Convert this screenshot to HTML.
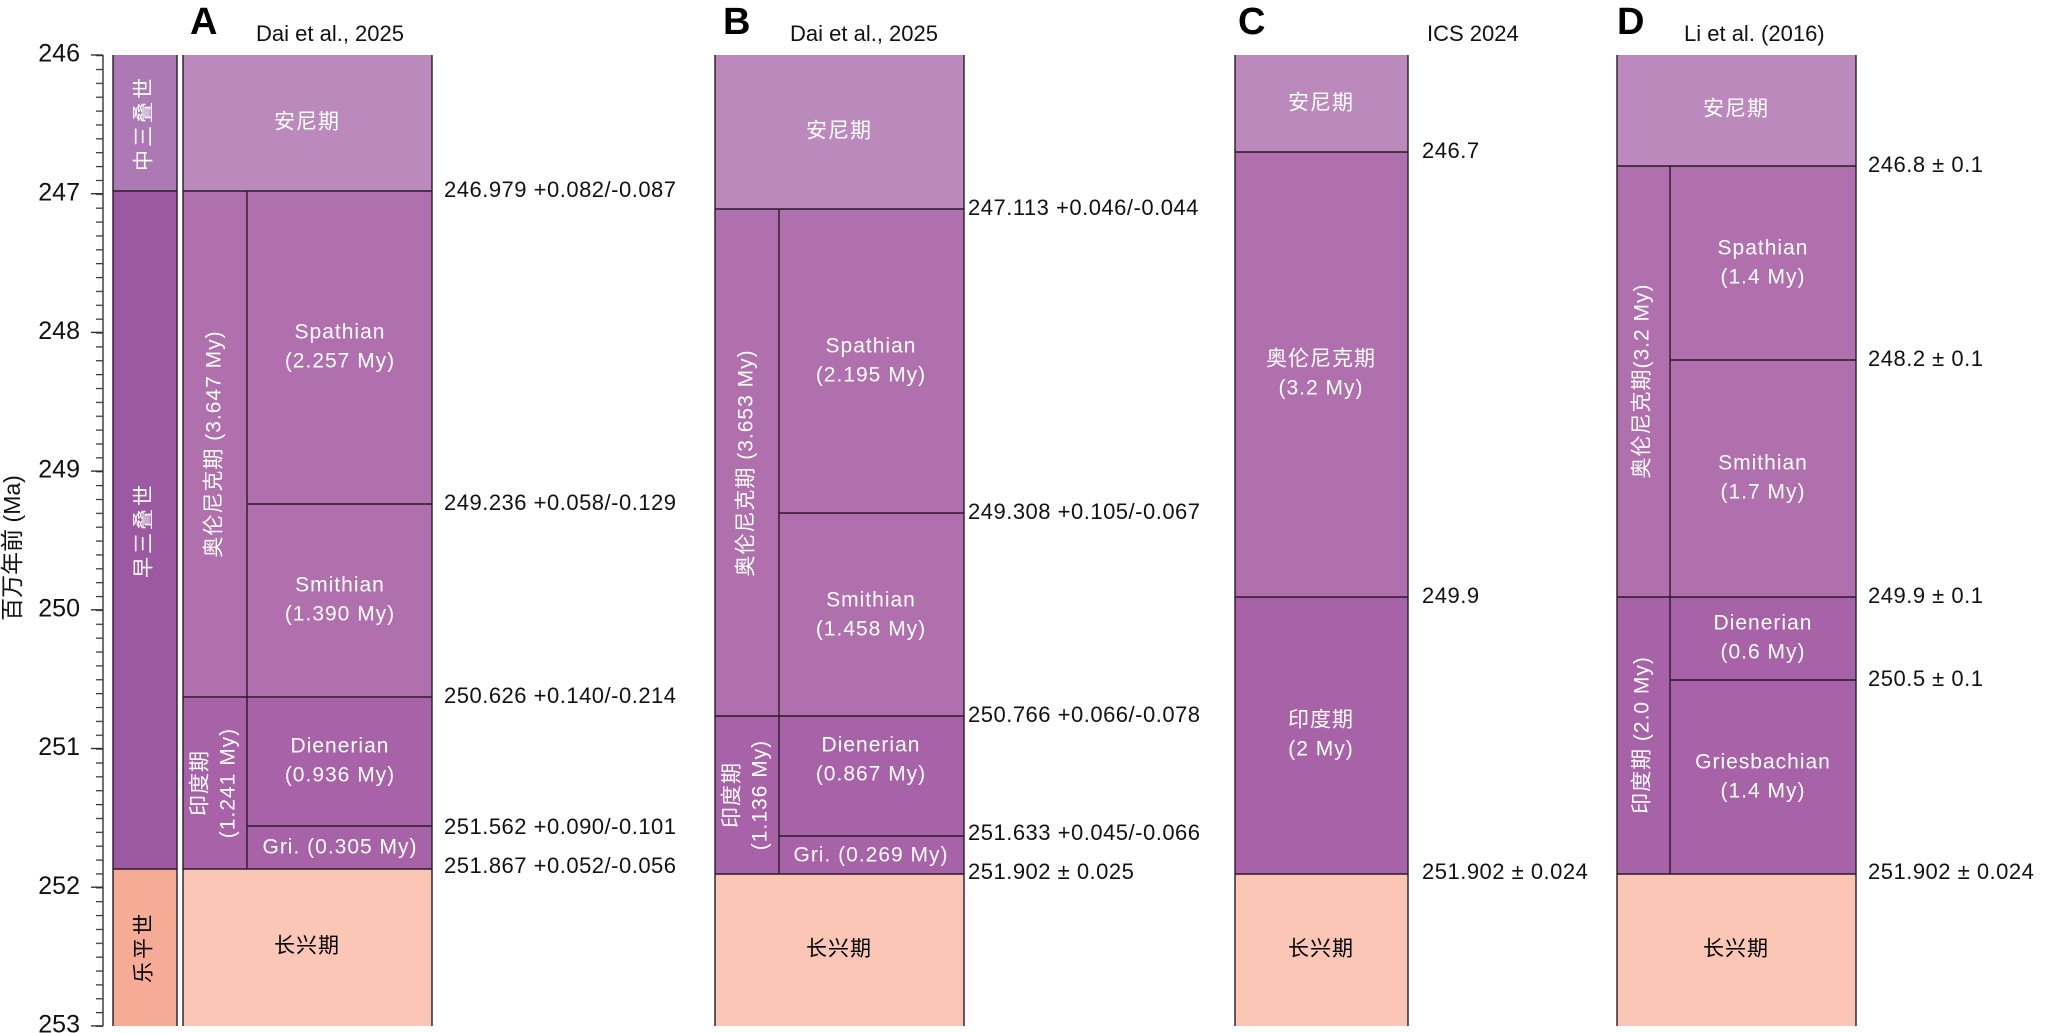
<!DOCTYPE html>
<html><head><meta charset="utf-8"><style>
html,body{margin:0;padding:0;background:#fff}
svg{display:block}
text{font-family:"Liberation Sans","Noto Sans CJK SC",sans-serif}
.w{fill:#fff;font-size:21px;text-anchor:middle;dominant-baseline:middle;letter-spacing:1px}
.k{fill:#000;font-size:21px;text-anchor:middle;dominant-baseline:middle;letter-spacing:1px}
.a{fill:#111;font-size:22px;dominant-baseline:middle;letter-spacing:0.5px}
.t{fill:#111;font-size:22px}
.L{fill:#000;font-size:38px;font-weight:bold}
.ax{fill:#111;font-size:25px;text-anchor:end;dominant-baseline:middle}
.ln{stroke:#2a1a2a;stroke-width:1.4;fill:none}
</style></head><body>
<svg width="2048" height="1033" viewBox="0 0 2048 1033" xmlns="http://www.w3.org/2000/svg">
<defs>
<pattern id="mt" x="0" y="55" width="20" height="13.87" patternUnits="userSpaceOnUse">
<line x1="0" y1="0.6" x2="20" y2="0.6" stroke="#333" stroke-width="1.2"/>
</pattern>
</defs>
<rect x="96" y="54" width="7" height="973" fill="url(#mt)"/>
<line x1="103" y1="55" x2="103" y2="1026" stroke="#333" stroke-width="1.4"/>
<g stroke="#333" stroke-width="1.4">
<line x1="91" y1="55" x2="103" y2="55"/><line x1="91" y1="193.7" x2="103" y2="193.7"/><line x1="91" y1="332.4" x2="103" y2="332.4"/><line x1="91" y1="471.1" x2="103" y2="471.1"/><line x1="91" y1="609.8" x2="103" y2="609.8"/><line x1="91" y1="748.5" x2="103" y2="748.5"/><line x1="91" y1="887.2" x2="103" y2="887.2"/><line x1="91" y1="1025.9" x2="103" y2="1025.9"/>
</g>
<text class="ax" x="80" y="55">246</text><text class="ax" x="80" y="193.7">247</text><text class="ax" x="80" y="332.4">248</text><text class="ax" x="80" y="471.1">249</text><text class="ax" x="80" y="609.8">250</text><text class="ax" x="80" y="748.5">251</text><text class="ax" x="80" y="887.2">252</text><text class="ax" x="80" y="1025.9">253</text>
<text x="14" y="548" transform="rotate(-90 14 548)" style="font-size:23px;text-anchor:middle;dominant-baseline:middle;fill:#111">百万年前 (Ma)</text>

<rect x="113" y="55" width="64" height="136" fill="#ad79b5"/>
<rect x="113" y="191" width="64" height="678" fill="#9c59a2"/>
<rect x="113" y="869" width="64" height="157" fill="#f6ab96"/>
<path class="ln" d="M113 55V1026M177 55V1026M113 191H177M113 869H177"/>
<text class="w" x="145" y="123" transform="rotate(-90 145 123)" style="letter-spacing:3px">中三叠世</text>
<text class="w" x="145" y="530" transform="rotate(-90 145 530)" style="letter-spacing:3px">早三叠世</text>
<text class="k" x="145" y="947" transform="rotate(-90 145 947)" style="letter-spacing:3px">乐平世</text>

<text class="L" x="190" y="34">A</text><text class="t" x="256" y="41">Dai et al., 2025</text>
<rect x="183" y="55" width="249" height="136" fill="#bb89bc"/>
<rect x="183" y="191" width="249" height="506" fill="#b070ae"/>
<rect x="183" y="697" width="249" height="172" fill="#a762a8"/>
<rect x="183" y="869" width="249" height="157" fill="#fbc6b6"/>
<path class="ln" d="M183 55V1026M432 55V1026M183 191H432M247 191V869M247 504H432M183 697H432M247 826H432M183 869H432"/>
<text class="w" x="307" y="123">安尼期</text>
<text class="w" x="340" y="333">Spathian</text><text class="w" x="340" y="362">(2.257 My)</text>
<text class="w" x="340" y="586">Smithian</text><text class="w" x="340" y="615">(1.390 My)</text>
<text class="w" x="340" y="747">Dienerian</text><text class="w" x="340" y="776">(0.936 My)</text>
<text class="w" x="340" y="848">Gri. (0.305 My)</text>
<text class="k" x="307" y="947">长兴期</text>
<text class="w" x="215" y="444" transform="rotate(-90 215 444)">奥伦尼克期 (3.647 My)</text>
<g transform="rotate(-90 215 783)"><text class="w" x="215" y="769">印度期</text><text class="w" x="215" y="797">(1.241 My)</text></g>
<text class="a" x="444" y="191">246.979 +0.082/-0.087</text>
<text class="a" x="444" y="504">249.236 +0.058/-0.129</text>
<text class="a" x="444" y="697">250.626 +0.140/-0.214</text>
<text class="a" x="444" y="828">251.562 +0.090/-0.101</text>
<text class="a" x="444" y="867">251.867 +0.052/-0.056</text>

<text class="L" x="723" y="34">B</text><text class="t" x="790" y="41">Dai et al., 2025</text>
<rect x="715" y="55" width="249" height="154" fill="#bb89bc"/>
<rect x="715" y="209" width="249" height="507" fill="#b070ae"/>
<rect x="715" y="716" width="249" height="158" fill="#a762a8"/>
<rect x="715" y="874" width="249" height="152" fill="#fbc6b6"/>
<path class="ln" d="M715 55V1026M964 55V1026M715 209H964M779 209V874M779 513H964M715 716H964M779 836H964M715 874H964"/>
<text class="w" x="839" y="132">安尼期</text>
<text class="w" x="871" y="347">Spathian</text><text class="w" x="871" y="376">(2.195 My)</text>
<text class="w" x="871" y="601">Smithian</text><text class="w" x="871" y="630">(1.458 My)</text>
<text class="w" x="871" y="746">Dienerian</text><text class="w" x="871" y="775">(0.867 My)</text>
<text class="w" x="871" y="856">Gri. (0.269 My)</text>
<text class="k" x="839" y="950">长兴期</text>
<text class="w" x="747" y="463" transform="rotate(-90 747 463)">奥伦尼克期 (3.653 My)</text>
<g transform="rotate(-90 747 795)"><text class="w" x="747" y="781">印度期</text><text class="w" x="747" y="809">(1.136 My)</text></g>
<text class="a" x="968" y="209">247.113 +0.046/-0.044</text>
<text class="a" x="968" y="513">249.308 +0.105/-0.067</text>
<text class="a" x="968" y="716">250.766 +0.066/-0.078</text>
<text class="a" x="968" y="834">251.633 +0.045/-0.066</text>
<text class="a" x="968" y="873">251.902 ± 0.025</text>

<text class="L" x="1238" y="34">C</text><text class="t" x="1427" y="41">ICS 2024</text>
<rect x="1235" y="55" width="173" height="97" fill="#bb89bc"/>
<rect x="1235" y="152" width="173" height="445" fill="#b070ae"/>
<rect x="1235" y="597" width="173" height="277" fill="#a762a8"/>
<rect x="1235" y="874" width="173" height="152" fill="#fbc6b6"/>
<path class="ln" d="M1235 55V1026M1408 55V1026M1235 152H1408M1235 597H1408M1235 874H1408"/>
<text class="w" x="1321" y="104">安尼期</text>
<text class="w" x="1321" y="360">奥伦尼克期</text><text class="w" x="1321" y="389">(3.2 My)</text>
<text class="w" x="1321" y="721">印度期</text><text class="w" x="1321" y="750">(2 My)</text>
<text class="k" x="1321" y="950">长兴期</text>
<text class="a" x="1422" y="152">246.7</text>
<text class="a" x="1422" y="597">249.9</text>
<text class="a" x="1422" y="873">251.902 ± 0.024</text>

<text class="L" x="1617" y="34">D</text><text class="t" x="1684" y="41">Li et al. (2016)</text>
<rect x="1617" y="55" width="239" height="111" fill="#bb89bc"/>
<rect x="1617" y="166" width="239" height="431" fill="#b070ae"/>
<rect x="1617" y="597" width="239" height="277" fill="#a762a8"/>
<rect x="1617" y="874" width="239" height="152" fill="#fbc6b6"/>
<path class="ln" d="M1617 55V1026M1856 55V1026M1617 166H1856M1670 166V874M1670 360H1856M1617 597H1856M1670 680H1856M1617 874H1856"/>
<text class="w" x="1736" y="110">安尼期</text>
<text class="w" x="1763" y="249">Spathian</text><text class="w" x="1763" y="278">(1.4 My)</text>
<text class="w" x="1763" y="464">Smithian</text><text class="w" x="1763" y="493">(1.7 My)</text>
<text class="w" x="1763" y="624">Dienerian</text><text class="w" x="1763" y="653">(0.6 My)</text>
<text class="w" x="1763" y="763">Griesbachian</text><text class="w" x="1763" y="792">(1.4 My)</text>
<text class="k" x="1736" y="950">长兴期</text>
<text class="w" x="1643" y="381" transform="rotate(-90 1643 381)">奥伦尼克期(3.2 My)</text>
<text class="w" x="1643" y="735" transform="rotate(-90 1643 735)">印度期 (2.0 My)</text>
<text class="a" x="1868" y="166">246.8 ± 0.1</text>
<text class="a" x="1868" y="360">248.2 ± 0.1</text>
<text class="a" x="1868" y="597">249.9 ± 0.1</text>
<text class="a" x="1868" y="680">250.5 ± 0.1</text>
<text class="a" x="1868" y="873">251.902 ± 0.024</text>
</svg>
</body></html>
